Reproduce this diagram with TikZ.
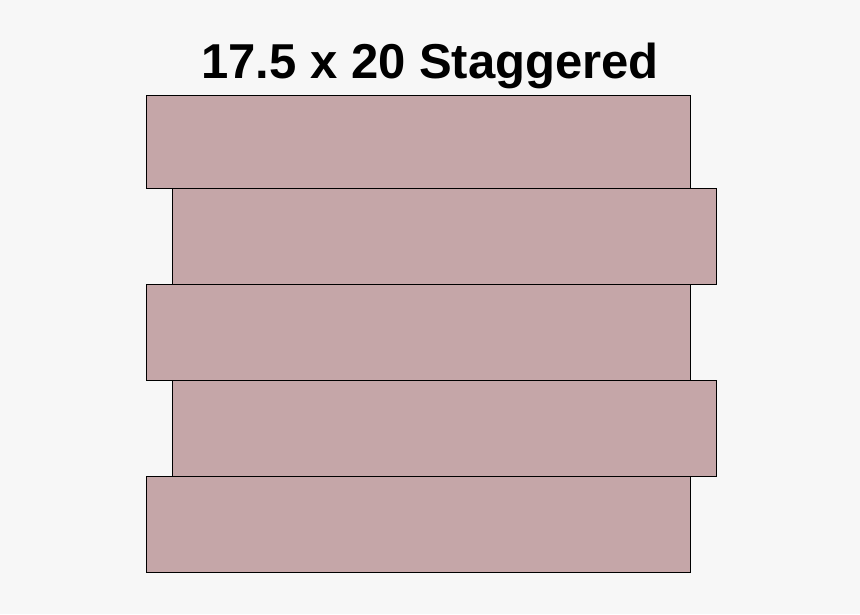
\documentclass[tikz,border=0pt]{standalone}
\usepackage{fontspec}
\setmainfont{Liberation Sans}
\begin{document}
\begin{tikzpicture}[x=1pt,y=-1pt,
  board/.style={draw=black,line width=1pt,fill=boardfill,inner sep=0pt,minimum width=544pt,minimum height=93.5pt,anchor=north west},
  titletext/.style={font=\fontsize{49}{58}\selectfont\bfseries,text=black,anchor=base}]
\definecolor{boardfill}{HTML}{C5A6A8}
\definecolor{bgfill}{HTML}{F7F7F7}
\fill[bgfill] (0,0) rectangle (860,614);
\useasboundingbox (0,0) rectangle (860,614);
\node[titletext] (title) at (430,78) {17.5 x 20 Staggered};
\node[board,minimum height=93pt] (b1) at (146,95) {};
\node[board,minimum height=96pt] (b2) at (172,188) {};
\node[board,minimum height=96pt] (b3) at (146,284) {};
\node[board,minimum height=96pt] (b4) at (172,380) {};
\node[board,minimum height=96pt] (b5) at (146,476) {};
\end{tikzpicture}
\end{document}
